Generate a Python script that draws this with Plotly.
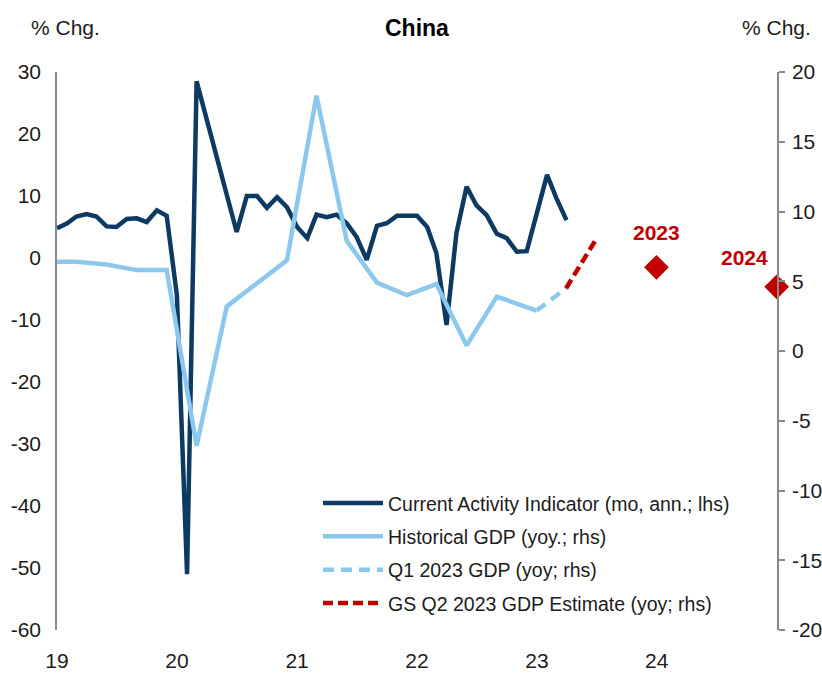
import pandas as pd
import plotly.graph_objects as go

# ---- data -------------------------------------------------------------
# Current Activity Indicator, monthly, annualized % change (left axis)
cai_dates = pd.date_range("2019-01-01", "2023-04-01", freq="MS")
cai_values = [
    4.8, 5.6, 6.7, 7.1, 6.7, 5.1, 5.0, 6.3, 6.4, 5.8, 7.7, 6.8,      # 2019
    -6.0, -51.0, 28.5, 22.4, 16.3, 10.2, 4.2, 10.0, 10.0, 8.1, 9.8, 8.2,  # 2020
    5.0, 3.2, 7.0, 6.6, 7.0, 5.6, 3.4, -0.3, 5.2, 5.6, 6.8, 6.8,     # 2021
    6.8, 5.0, 0.8, -10.8, 4.0, 11.5, 8.5, 6.9, 3.9, 3.2, 1.0, 1.1,   # 2022
    7.2, 13.4, 9.7, 6.1,                                             # 2023
]

# Real GDP, yoy % (right axis)
gdp_dates = [
    "2018-12-01", "2019-03-01", "2019-06-01", "2019-09-01", "2019-12-01",
    "2020-03-01", "2020-06-01", "2020-09-01", "2020-12-01",
    "2021-03-01", "2021-06-01", "2021-09-01", "2021-12-01",
    "2022-03-01", "2022-06-01", "2022-09-01", "2022-12-31",
]
gdp_values = [6.4, 6.4, 6.2, 5.8, 5.8, -6.8, 3.2, 4.9, 6.5,
              18.3, 7.9, 4.9, 4.0, 4.8, 0.4, 3.9, 2.9]

q1_dates = ["2022-12-31", "2023-03-31"]
q1_values = [2.9, 4.5]

gs_q2_dates = ["2023-03-31", "2023-06-30"]
gs_q2_values = [4.5, 8.0]

annual_dates = ["2023-12-31", "2024-12-31"]
annual_values = [6.0, 4.6]
annual_labels = ["2023", "2024"]

year_ticks = ["2019-01-01", "2020-01-01", "2021-01-01", "2022-01-01",
              "2023-01-01", "2024-01-01"]
year_labels = ["19", "20", "21", "22", "23", "24"]

left_ticks = [-60, -50, -40, -30, -20, -10, 0, 10, 20, 30]
right_ticks = [-20, -15, -10, -5, 0, 5, 10, 15, 20]

# ---- styling ----------------------------------------------------------
FONT = "Liberation Sans Narrow, Arial Narrow, Liberation Sans, Arial, sans-serif"
NAVY = "#0d3a62"
LIGHT = "#8cc7ee"
RED = "#c00000"
GRID = "#8a8a8a"
TEXT = "#1c1c1c"
X_RANGE = ["2019-01-01", "2025-01-01"]

fig = go.Figure()

fig.add_trace(go.Scatter(
    x=cai_dates, y=cai_values, mode="lines", yaxis="y",
    name="Current Activity Indicator (mo, ann.; lhs)",
    line=dict(color=NAVY, width=4.5), legendrank=1, legendgroup="a",
))
fig.add_trace(go.Scatter(
    x=gdp_dates, y=gdp_values, mode="lines", yaxis="y2",
    name="Historical GDP (yoy.; rhs)",
    line=dict(color=LIGHT, width=4.5), legendrank=2, legendgroup="b",
))
fig.add_trace(go.Scatter(
    x=q1_dates, y=q1_values, mode="lines", yaxis="y2",
    name="Q1 2023 GDP (yoy; rhs)",
    line=dict(color=LIGHT, width=4.5, dash="11px,7px"), legendrank=3,
    legendgroup="c",
))
fig.add_trace(go.Scatter(
    x=gs_q2_dates, y=gs_q2_values, mode="lines", yaxis="y2",
    name="GS Q2 2023 GDP Estimate (yoy; rhs)",
    line=dict(color=RED, width=4.5, dash="10px,5px"), legendrank=4,
    legendgroup="d",
))
fig.add_trace(go.Scatter(
    x=annual_dates, y=annual_values, mode="markers", yaxis="y2",
    marker=dict(symbol="diamond", size=19, color=RED),
    showlegend=False, cliponaxis=False,
))

# year labels above the annual forecast diamonds
for d, v, lab, xs, ys in zip(annual_dates, annual_values, annual_labels,
                             [0, -32], [35, 29]):
    fig.add_annotation(
        x=d, y=v, xref="x", yref="y2", text=f"<b>{lab}</b>",
        showarrow=False, xshift=xs, yshift=ys,
        font=dict(family=FONT, size=21, color=RED),
    )

# headers
fig.add_annotation(x=0.5, y=1.079, xref="paper", yref="paper",
                   xanchor="center", yanchor="middle",
                   text="<b>China</b>", showarrow=False,
                   font=dict(family=FONT, size=23, color="#000000"))
fig.add_annotation(x=0.012, y=1.079, xref="paper", yref="paper",
                   xanchor="center", yanchor="middle",
                   text="% Chg.", showarrow=False,
                   font=dict(family=FONT, size=21, color=TEXT))
fig.add_annotation(x=0.999, y=1.079, xref="paper", yref="paper",
                   xanchor="center", yanchor="middle",
                   text="% Chg.", showarrow=False,
                   font=dict(family=FONT, size=21, color=TEXT))

fig.update_layout(
    width=822, height=675,
    margin=dict(l=57, r=45, t=72, b=45),
    paper_bgcolor="white", plot_bgcolor="white",
    font=dict(family=FONT, size=20, color=TEXT),
    showlegend=True,
    legend=dict(
        x=0.3625, y=0.262, xanchor="left", yanchor="top",
        bgcolor="rgba(0,0,0,0)", font=dict(family=FONT, size=19.5, color=TEXT),
        itemwidth=60, tracegroupgap=5, traceorder="grouped",
    ),
    xaxis=dict(
        type="date", range=X_RANGE, automargin=False,
        tickvals=year_ticks, ticktext=year_labels,
        showline=False, showgrid=False, zeroline=False,
        ticks="", ticklabelstandoff=16,
        tickfont=dict(family=FONT, size=21, color=TEXT),
    ),
    # horizontal rule at the right-hand zero with yearly tick marks
    xaxis2=dict(
        type="date", range=X_RANGE, overlaying="x", automargin=False,
        anchor="free", position=0.5, side="bottom",
        tickvals=year_ticks + ["2025-01-01"],
        showticklabels=False, ticks="outside", ticklen=7,
        tickcolor=GRID, tickwidth=1.5,
        showline=True, linecolor=GRID, linewidth=1.5,
        showgrid=False, zeroline=False,
    ),
    yaxis=dict(
        range=[-60, 30], automargin=False,
        tickvals=left_ticks, ticktext=[str(v) for v in left_ticks],
        showline=True, linecolor=GRID, linewidth=1.5,
        ticks="", ticklabelstandoff=10,
        showgrid=False, zeroline=False,
        tickfont=dict(family=FONT, size=21, color=TEXT),
    ),
    yaxis2=dict(
        range=[-20, 20], overlaying="y", side="right", automargin=False,
        tickvals=right_ticks, ticktext=[str(v) for v in right_ticks],
        showline=True, linecolor=GRID, linewidth=1.5,
        ticks="outside", ticklen=6, tickcolor=GRID, tickwidth=1.5,
        ticklabelstandoff=3,
        showgrid=False, zeroline=False,
        tickfont=dict(family=FONT, size=21, color=TEXT),
    ),
)

fig.write_html("out.html")
